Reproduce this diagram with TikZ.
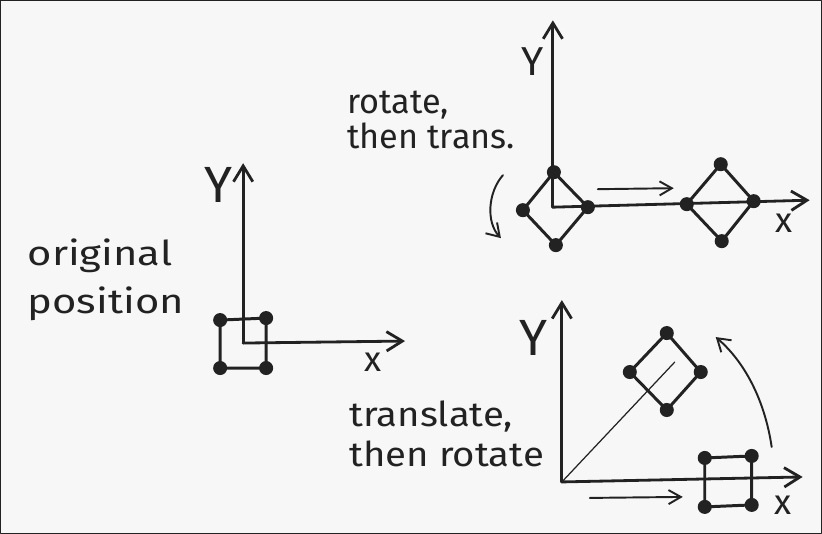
\documentclass[tikz,border=0pt]{standalone}
\usepackage{fontspec}
\setmainfont{Fira Sans}
\newfontfamily\handfontA[FakeStretch=1.22]{Fira Sans}
\newfontfamily\handfontB[FakeStretch=1.0]{Fira Sans}
\newfontfamily\handfontC[FakeStretch=1.12]{Fira Sans}
\usetikzlibrary{arrows.meta}
\definecolor{bg}{HTML}{F7F7F7}
\definecolor{ink}{HTML}{222222}
\begin{document}
\begin{tikzpicture}[x=0.02cm,y=-0.02cm,
  line cap=round, line join=round,
  every path/.style={draw=ink},
  ax/.style={line width=1.6pt,-{Straight Barb[length=9pt,width=11pt,line width=1.6pt]}},
  shp/.style={line width=1.7pt},
  thin/.style={line width=0.7pt},
  mv/.style={line width=1.1pt,-{Straight Barb[length=7pt,width=8pt,line width=1.1pt]}},
  turn/.style={line width=1.1pt,-{Straight Barb[length=7pt,width=9pt,line width=1.1pt]}},
  dot/.style={circle,fill=ink,draw=none,inner sep=0pt,minimum size=8pt},
  txt/.style={text=ink,align=left,inner sep=0pt},
  biglab/.style={text=ink,font=\fontsize{29}{32}\selectfont,inner sep=0pt},
  midlab/.style={text=ink,font=\fontsize{23}{26}\selectfont,inner sep=0pt},
  xlab/.style={text=ink,font=\fontsize{20}{24}\selectfont,inner sep=0pt}]
\fill[bg,draw=none] (0,0) rectangle (822,533);
\useasboundingbox (0,0) rectangle (822,533);

% ---------- original position ----------
\coordinate (o1) at (243,343);
\coordinate (y1) at (243,163);
\coordinate (x1) at (405,341);
\draw[ax] (o1) -- (y1);
\draw[ax] (o1) -- (x1);
\coordinate (a1) at (220,320);
\coordinate (b1) at (266,318);
\coordinate (c1) at (266,368);
\coordinate (d1) at (220,368);
\draw[shp] (a1) -- (b1) -- (c1) -- (d1) -- cycle;
\foreach \p in {a1,b1,c1,d1} \node[dot] at (\p) {};
\node[biglab] (Y1) at (218,185) {Y};
\node[xlab] (X1) at (373,362) {x};
\node[txt,font=\handfontA\fontsize{19.5}{23}\selectfont,anchor=base west] (t1) at (27,313) {original\\[4pt]position};

% ---------- rotate then translate ----------
\coordinate (o2) at (553,207);
\coordinate (y2) at (553,20);
\coordinate (x2) at (810,200);
\draw[ax] (o2) -- (y2);
\draw[ax] (o2) -- (x2);
\coordinate (a2) at (554,172);
\coordinate (b2) at (588,207);
\coordinate (c2) at (556,245);
\coordinate (d2) at (523,210);
\draw[shp] (a2) -- (b2) -- (c2) -- (d2) -- cycle;
\foreach \p in {a2,b2,c2,d2} \node[dot] at (\p) {};
\coordinate (a3) at (721,164);
\coordinate (b3) at (754,201);
\coordinate (c3) at (722,241);
\coordinate (d3) at (687,204);
\draw[shp] (a3) -- (b3) -- (c3) -- (d3) -- cycle;
\foreach \p in {a3,b3,c3,d3} \node[dot] at (\p) {};
\coordinate (m2s) at (598,189);
\coordinate (m2e) at (674,188);
\draw[mv] (m2s) -- (m2e);
\coordinate (r2s) at (503,175);
\coordinate (r2e) at (501,238);
\draw[turn] (r2s) .. controls (488,192) and (486,222) .. (r2e);
\node[midlab] (Y2) at (533,61) {Y};
\node[xlab] (X2) at (784,223) {x};
\node[txt,font=\handfontB\fontsize{19.5}{23}\selectfont,anchor=base west] (t2) at (347,148) {rotate,\\[-3pt]then trans.};

% ---------- translate then rotate ----------
\coordinate (o3) at (562,482);
\coordinate (y3) at (562,300);
\coordinate (x3) at (803,477);
\draw[ax] (o3) -- (y3);
\draw[ax] (o3) -- (x3);
\coordinate (dg) at (675,362);
\draw[thin] (o3) -- (dg);
\coordinate (a4) at (667,333);
\coordinate (b4) at (701,372);
\coordinate (c4) at (667,410);
\coordinate (d4) at (630,372);
\draw[shp] (a4) -- (b4) -- (c4) -- (d4) -- cycle;
\foreach \p in {a4,b4,c4,d4} \node[dot] at (\p) {};
\coordinate (a5) at (705,458);
\coordinate (b5) at (752,456);
\coordinate (c5) at (752,505);
\coordinate (d5) at (705,507);
\draw[shp] (a5) -- (b5) -- (c5) -- (d5) -- cycle;
\foreach \p in {a5,b5,c5,d5} \node[dot] at (\p) {};
\coordinate (m3s) at (590,498);
\coordinate (m3e) at (683,497);
\draw[mv] (m3s) -- (m3e);
\coordinate (r3s) at (772,447);
\coordinate (r3e) at (716,337);
\draw[turn] (r3s) .. controls (765,400) and (745,362) .. (r3e);
\node[biglab] (Y3) at (534,338) {Y};
\node[xlab] (X3) at (783,505) {x};
\node[txt,font=\handfontC\fontsize{19.5}{23}\selectfont,anchor=base west] (t3) at (349,467) {translate,\\[0pt]then rotate};
\end{tikzpicture}
\end{document}
